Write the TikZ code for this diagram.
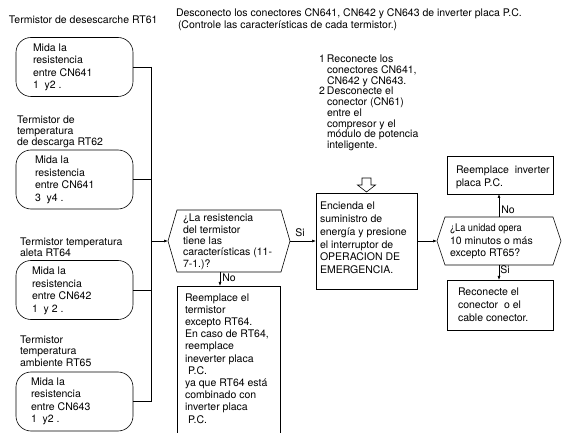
\documentclass[tikz,border=0pt]{standalone}
\usepackage{fontspec}
\setmainfont{TeX Gyre Heros}
\usepackage{graphicx}
\usetikzlibrary{arrows.meta,calc}
\begin{document}
\begin{tikzpicture}[x=1pt,y=-1pt,
  every node/.style={inner sep=0pt, outer sep=0pt, font=\fontsize{10.5}{11}\selectfont},
  txt/.style={anchor=north west, align=left, font=\fontsize{10.5}{#1}\selectfont},
  txt/.default=11,
  roundbox/.style={draw, line width=0.6pt, rounded corners=15pt,
    minimum width=117pt, minimum height=59pt},
  rectbox/.style={draw, line width=0.8pt},
  shapeline/.style={line width=0.6pt},
  link/.style={line width=0.6pt},
  arr/.style={line width=0.6pt, -{Latex[length=4pt,width=3pt]}},
]
\path[use as bounding box] (0,0) rectangle (563,433);

% headings
\node[txt=12] (head) at (176,9)
  {Desconecto los conectores CN641, CN642 y CN643 de inverter placa P.C.\\
   \hspace*{2pt}(Controle las características de cada termistor.)};
\node[txt] (t1) at (9,16) {Termistor de desescarche RT61};

% measuring steps, one per thermistor
\node[roundbox] (b1) at (74.5,67) {};
\node[txt=12.5] (b1t) at (33,43.5) {Mida la\\resistencia\\entre CN641\\1\ \ y2 .};

\node[txt=10.8] (t2) at (17,116) {Termistor de\\temperatura\\de descarga RT62};
\node[roundbox] (b2) at (74.5,179.5) {};
\node[txt=12.5] (b2t) at (35,156) {Mida la\\resistencia\\entre CN641\\3\ \ y4 .};

\node[txt=11] (t3) at (20,238) {Termistor temperatura\\aleta RT64};
\node[roundbox] (b3) at (74.5,290) {};
\node[txt=12.5] (b3t) at (32,267) {Mida la\\resistencia\\entre CN642\\1\ \ y 2 .};

\node[txt=11.5] (t4) at (20,335.5) {Termistor\\temperatura\\ambiente RT65};
\node[roundbox] (b4) at (74.5,401.5) {};
\node[txt=12.3] (b4t) at (31,378) {Mida la\\resistencia\\entre CN643\\1\ \ y2 .};

% collecting line
\coordinate (bus) at (151,0);
\foreach \b in {b1,b2,b3,b4} \draw[link] (\b.east) -- (\b.east -| bus);
\draw[link] (b1.east -| bus) -- (b4.east -| bus);

% first decision
\node[minimum width=104pt, minimum height=62pt] (h1) at (229,241) {};
\coordinate (h1l) at ($(h1.west)+(-9,0)$);
\coordinate (h1r) at ($(h1.east)+(9,0)$);
\draw[shapeline] (h1.north west) -- (h1.north east) -- (h1r) -- (h1.south east)
  -- (h1.south west) -- (h1l) -- cycle;
\node[txt=11.4] (h1t) at (183,214)
  {¿La resistencia\\del termistor\\tiene las\\características (11-\\7-1.)?};
\draw[arr] (h1l -| bus) -- (h1l);

% replace thermistor (box runs off the bottom)
\node[minimum width=103pt, minimum height=150pt, anchor=north] (r) at (228.5,286) {};
\draw[rectbox] (r.south west) -- (r.north west) -- (r.north east) -- (r.south east);
\node[txt=12.2] (rt) at (185,293.5)
  {Reemplace el\\termistor\\excepto RT64.\\En caso de RT64,\\reemplace\\ineverter placa\\
   \hspace*{3pt}P.C.\\ya que RT64 está\\combinado con\\inverter placa\\\hspace*{3pt}P.C.};
\draw[arr] ([xshift=-9pt]h1.south) -- ([xshift=-9pt]h1.south |- r.north);
\node (no1) at (229,278) {No};

% power on step
\node[rectbox, minimum width=101pt, minimum height=96pt] (e) at (366.5,241) {};
\node[txt=12.8] (et) at (320,202)
  {Encienda el\\suministro de\\energía y presione\\el interruptor de\\OPERACION DE\\EMERGENCIA.};
\draw[arr] (h1r) -- (e.west);
\node (si1) at (300,233) {Si};

\node[txt=10.75] (steps) at (319,55)
  {\makebox[8pt][l]{1}Reconecte los\\\hspace*{8pt}conectores CN641,\\\hspace*{8pt}CN642 y CN643.\\
   \makebox[8pt][l]{2}Desconecte el\\\hspace*{8pt}conector (CN61)\\\hspace*{8pt}entre el\\
   \hspace*{8pt}compresor y el\\\hspace*{8pt}módulo de potencia\\\hspace*{8pt}inteligente.};
\draw[shapeline, shift={(e.north)}] (-4.5,-15) -- (4.5,-15) -- (4.5,-8) -- (9,-8)
  -- (0,-1) -- (-9,-8) -- (-4.5,-8) -- cycle;

% second decision
\node[minimum width=108pt, minimum height=48pt] (h2) at (499,241) {};
\coordinate (h2l) at ($(h2.west)+(-8,0)$);
\coordinate (h2r) at ($(h2.east)+(8,0)$);
\draw[shapeline] (h2.north west) -- (h2.north east) -- (h2r) -- (h2.south east)
  -- (h2.south west) -- (h2l) -- cycle;
\node[txt=12.4] (h2t) at (450,224)
  {\scalebox{0.88}[1]{¿La unidad opera}\\10 minutos o más\\excepto RT65?};
\draw[arr] (e.east) -- (h2l);

\node[rectbox, minimum width=106pt, minimum height=38pt] (ri) at (500,175) {};
\node[txt=13.5] (rit) at (456,165.5) {Reemplace\ \ inverter\\placa P.C.};
\draw[arr] (h2.north) -- (h2.north |- ri.south);
\node (no2) at (508,210) {No};

\node[rectbox, minimum width=106pt, minimum height=50pt] (rc) at (500,305) {};
\node[txt=13] (rct) at (458,287.5) {Reconecte el\\conector\ \ o el\\cable conector.};
\draw[arr] (h2.south) -- (h2.south |- rc.north);
\node (si2) at (505,270) {Si};
\end{tikzpicture}
\end{document}
